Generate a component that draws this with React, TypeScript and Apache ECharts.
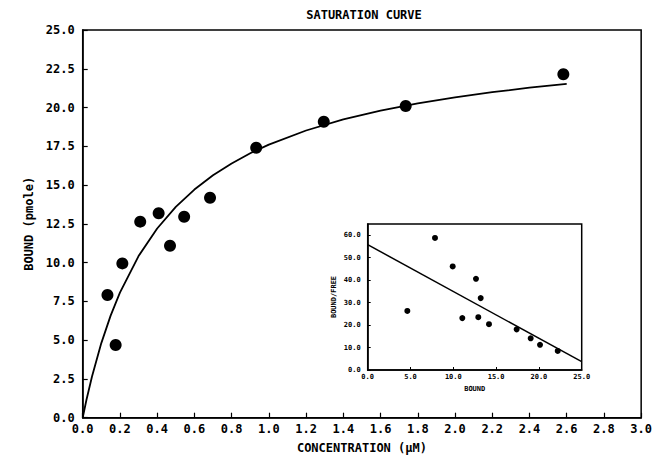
import React, { useEffect, useRef } from "react";
import * as echarts from "echarts";

// Main saturation data (concentration µM, bound pmole)
const mainConc = [0.133, 0.177, 0.213, 0.309, 0.408, 0.469, 0.545, 0.684, 0.932, 1.295, 1.735, 2.582];
const mainBound = [7.91, 4.69, 9.95, 12.64, 13.18, 11.09, 12.96, 14.18, 17.41, 19.08, 20.1, 22.15];

// Fitted saturation curve
const curveConc = [0, 0.02, 0.05, 0.1, 0.15, 0.2, 0.3, 0.4, 0.5, 0.6, 0.7, 0.8, 0.9, 1.0, 1.2, 1.4, 1.6, 1.8, 2.0, 2.2, 2.4, 2.6];
const curveBound = [0, 1.14, 2.66, 4.81, 6.58, 8.06, 10.42, 12.2, 13.59, 14.71, 15.63, 16.39, 17.05, 17.61, 18.52, 19.23, 19.8, 20.27, 20.66, 20.99, 21.28, 21.52];

// Inset (Scatchard) data: bound vs bound/free
const insetBound = [7.86, 9.93, 12.65, 13.2, 4.63, 11.05, 12.92, 14.17, 17.4, 19.04, 20.13, 22.2];
const insetRatio = [58.8, 46.1, 40.6, 32.0, 26.3, 23.1, 23.5, 20.4, 18.1, 14.1, 11.2, 8.5];
const insetLineX = [0, 25];
const insetLineY = [55.8, 3.7];

const FONT = "DejaVu Sans Mono";

export default function App() {
  const ref = useRef<HTMLDivElement>(null);
  useEffect(() => {
    if (!ref.current) return;
    const chart = echarts.init(ref.current, null, { renderer: "svg" });
    const axisLine = { show: true, lineStyle: { color: "#000", width: 1.5 } };
    const mainLabel = { color: "#000", fontFamily: FONT, fontWeight: "bold", fontSize: 12 };
    const insetLabel = { color: "#000", fontFamily: FONT, fontWeight: "bold", fontSize: 7 };
    chart.setOption({
      animation: false,
      backgroundColor: "#fff",
      graphic: [
        {
          type: "text",
          x: 364,
          y: 15,
          style: {
            text: "SATURATION CURVE",
            textAlign: "center",
            textVerticalAlign: "middle",
            fill: "#000",
            font: `bold 12px "${FONT}"`,
          },
        },
      ],
      grid: [
        { left: 82.7, right: 9.3, top: 30, bottom: 41.3, show: true, borderColor: "#000", borderWidth: 1.5 },
        { left: 367.7, right: 73.3, top: 224, bottom: 89, show: true, borderColor: "#000", borderWidth: 1.5, backgroundColor: "#fff", z: 5 },
      ],
      xAxis: [
        {
          gridIndex: 0,
          type: "value",
          min: 0,
          max: 3,
          interval: 0.2,
          name: "CONCENTRATION (\u00b5M)",
          nameLocation: "middle",
          nameGap: 24,
          nameTextStyle: mainLabel,
          axisLine,
          axisTick: { show: true, inside: true, length: 5, lineStyle: { color: "#000", width: 1.2 } },
          axisLabel: { ...mainLabel, margin: 5, formatter: (v: number) => v.toFixed(1) },
          splitLine: { show: false },
        },
        {
          gridIndex: 1,
          type: "value",
          min: 0,
          max: 25,
          interval: 5,
          name: "BOUND",
          nameLocation: "middle",
          nameGap: 15,
          nameTextStyle: insetLabel,
          axisLine,
          axisTick: { show: true, inside: true, length: 3, lineStyle: { color: "#000", width: 1 } },
          axisLabel: { ...insetLabel, margin: 3, formatter: (v: number) => v.toFixed(1) },
          splitLine: { show: false },
          z: 6,
        },
      ],
      yAxis: [
        {
          gridIndex: 0,
          type: "value",
          min: 0,
          max: 25,
          interval: 2.5,
          name: "BOUND (pmole)",
          nameLocation: "middle",
          nameGap: 44,
          nameRotate: 90,
          nameTextStyle: mainLabel,
          axisLine,
          axisTick: { show: true, inside: true, length: 5, lineStyle: { color: "#000", width: 1.2 } },
          axisLabel: { ...mainLabel, margin: 8, formatter: (v: number) => v.toFixed(1) },
          splitLine: { show: false },
        },
        {
          gridIndex: 1,
          type: "value",
          min: 0,
          max: 65,
          interval: 10,
          name: "BOUND/FREE",
          nameLocation: "middle",
          nameGap: 30,
          nameRotate: 90,
          nameTextStyle: insetLabel,
          axisLine,
          axisTick: { show: true, inside: true, length: 3, lineStyle: { color: "#000", width: 1 } },
          axisLabel: { ...insetLabel, margin: 7, showMaxLabel: false, formatter: (v: number) => v.toFixed(1) },
          splitLine: { show: false },
          z: 6,
        },
      ],
      series: [
        {
          type: "line",
          xAxisIndex: 0,
          yAxisIndex: 0,
          data: curveConc.map((c, i) => [c, curveBound[i]]),
          showSymbol: false,
          lineStyle: { color: "#000", width: 1.8 },
          z: 2,
        },
        {
          type: "scatter",
          xAxisIndex: 0,
          yAxisIndex: 0,
          data: mainConc.map((c, i) => [c, mainBound[i]]),
          symbol: "circle",
          symbolSize: 12,
          itemStyle: { color: "#000", opacity: 1 },
          z: 3,
        },
        {
          type: "line",
          xAxisIndex: 1,
          yAxisIndex: 1,
          data: insetLineX.map((b, i) => [b, insetLineY[i]]),
          showSymbol: false,
          lineStyle: { color: "#000", width: 1.5 },
          z: 7,
        },
        {
          type: "scatter",
          xAxisIndex: 1,
          yAxisIndex: 1,
          data: insetBound.map((b, i) => [b, insetRatio[i]]),
          symbol: "circle",
          symbolSize: 6,
          itemStyle: { color: "#000", opacity: 1 },
          z: 7,
        },
      ],
    });
    return () => chart.dispose();
  }, []);
  return (
    <div
      ref={ref}
      style={{ position: "fixed", left: 0, top: 0, width: 655, height: 459, background: "#fff" }}
    />
  );
}
